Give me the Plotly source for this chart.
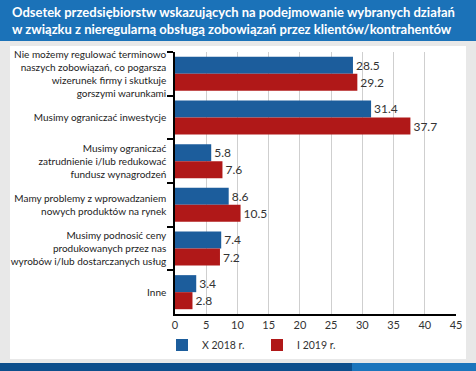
import plotly.graph_objects as go

categories = [
    "Nie możemy regulować terminowo<br>naszych zobowiązań, co pogarsza<br>wizerunek firmy i skutkuje<br>gorszymi warunkami",
    "Musimy ograniczać inwestycje",
    "Musimy ograniczać<br>zatrudnienie i/lub redukować<br>fundusz wynagrodzeń",
    "Mamy problemy z wprowadzaniem<br>nowych produktów na rynek",
    "Musimy podnosić ceny<br>produkowanych przez nas<br>wyrobów i/lub dostarczanych usług",
    "Inne",
]
series_names = ["X 2018 r.", "I 2019 r."]
values_2018 = [28.5, 31.4, 5.8, 8.6, 7.4, 3.4]
values_2019 = [29.2, 37.7, 7.6, 10.5, 7.2, 2.8]
x_ticks = [0, 5, 10, 15, 20, 25, 30, 35, 40, 45]
title_text = ("Odsetek przedsiębiorstw wskazujących na podejmowanie wybranych działań<br>"
              "w związku z nieregularną obsługą zobowiązań przez klientów/kontrahentów")

W, H = 476, 371
L, R, T, B = 175, 456, 52, 314

def px(x):
    return (x - L) / (R - L)

def py(y):
    return (B - y) / (B - T)

FONT = "Lato"

fig = go.Figure()
fig.add_trace(go.Bar(
    y=categories, x=values_2018, name=series_names[0], orientation="h",
    marker=dict(color="#1c5d9c", line=dict(width=0)),
    text=[f"{v:.1f}" for v in values_2018], textposition="outside",
    textfont=dict(size=12, color="#333333", family=FONT), cliponaxis=False,
))
fig.add_trace(go.Bar(
    y=categories, x=values_2019, name=series_names[1], orientation="h",
    marker=dict(color="#b01818", line=dict(width=0)),
    text=[f"{v:.1f}" for v in values_2019], textposition="outside",
    textfont=dict(size=12, color="#333333", family=FONT), cliponaxis=False,
))

shapes = [
    dict(type="rect", xref="paper", yref="paper", x0=px(0), x1=px(W), y0=py(0), y1=py(41),
         fillcolor="#1b72b8", line=dict(width=0), layer="below"),
    dict(type="rect", xref="paper", yref="paper", x0=px(10), x1=px(466), y0=py(46), y1=py(359),
         fillcolor="#ffffff", line=dict(width=0), layer="below"),
    dict(type="rect", xref="paper", yref="paper", x0=px(0), x1=px(352), y0=py(363), y1=py(H),
         fillcolor="#0d4f8c", line=dict(width=0), layer="below"),
    dict(type="rect", xref="paper", yref="paper", x0=px(352), x1=px(W), y0=py(363), y1=py(H),
         fillcolor="#1b75bc", line=dict(width=0), layer="below"),
]

fig.update_layout(
    width=W, height=H,
    margin=dict(l=L, r=W - R, t=T, b=H - B, pad=0, autoexpand=False),
    paper_bgcolor="#e8e8e8", plot_bgcolor="#ffffff",
    barmode="group", bargap=0.22, bargroupgap=0.0,
    font=dict(family=FONT, size=10, color="#222222"),
    shapes=shapes,
    showlegend=True,
    legend=dict(orientation="h", x=px(162), y=py(345), xanchor="left", yanchor="middle",
                font=dict(size=10.5, color="#333333", family=FONT),
                bgcolor="rgba(0,0,0,0)", entrywidth=50, traceorder="normal"),
    annotations=[dict(text="<b>" + title_text + "</b>", xref="paper", yref="paper", x=px(10), y=py(21),
                      xanchor="left", yanchor="middle", align="left", showarrow=False,
                      font=dict(size=13, color="#ffffff", family=FONT))],
)
fig.update_xaxes(range=[0, 45], tickvals=x_ticks, showgrid=True, gridcolor="#cfcfcf", gridwidth=1,
                 zeroline=False, showline=True, linecolor="#000000", linewidth=2,
                 tickfont=dict(size=11, color="#333333"), ticks="", ticklen=0, automargin=False)
fig.update_yaxes(autorange="reversed", showline=True, linecolor="#000000", linewidth=1.5,
                 ticks="outside", tickson="boundaries", ticklen=6, tickcolor="#000000", tickwidth=2,
                 ticklabelstandoff=5,
                 tickfont=dict(size=10, color="#222222"), showgrid=False, automargin=False)

fig.write_html("out.html", config={"displayModeBar": False},
               post_script="document.body.style.margin='0';document.body.style.overflow='hidden';")
